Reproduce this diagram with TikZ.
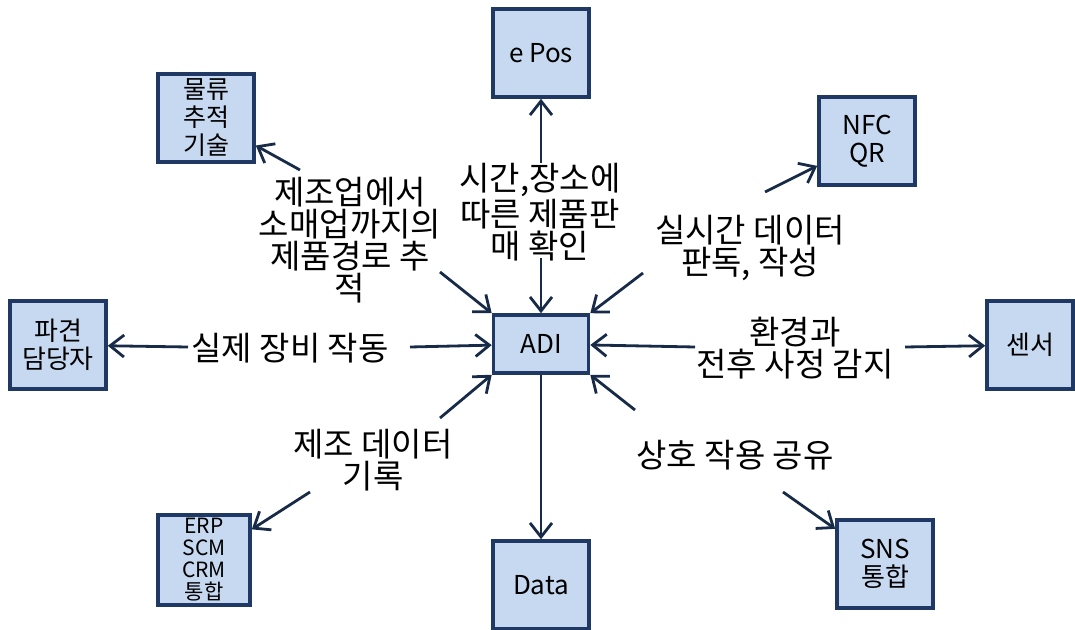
\documentclass[tikz,border=0pt]{standalone}
\usepackage{fontspec}
\setmainfont{Noto Sans CJK KR}
\usepackage{tikz}
\usetikzlibrary{arrows.meta}
\definecolor{boxfill}{RGB}{198,217,240}
\definecolor{boxline}{RGB}{31,56,100}
\definecolor{arrowline}{RGB}{23,43,72}

\begin{document}
\begin{tikzpicture}[x=0.5pt,y=-0.5pt,->,>={Straight Barb[length=7pt,width=11pt]},
  arrowline,line width=1.4pt,
  box/.style={rectangle,draw=boxline,fill=boxfill,line width=1.8pt,text=black,
    minimum width=48pt,minimum height=44pt,inner sep=1pt,align=center,
    font=\fontsize{13}{14}\selectfont},
  lbl/.style={text=black,align=center,inner sep=0pt,font=\fontsize{16.5}{14}\selectfont}]

  \useasboundingbox (0,0) rectangle (1075,630);

  \node[box] (epos) at (541,53) {e Pos};
  \node[box,font=\fontsize{12.5}{14}\selectfont] (track) at (206,118) {물류\\추적\\기술};
  \node[box] (nfc) at (867,141) {NFC\\QR};
  \node[box] (agent) at (58,345) {파견\\담당자};
  \node[box,minimum width=47.5pt,minimum height=29pt] (adi) at (541,344) {ADI};
  \node[box,minimum width=43pt] (sensor) at (1030,345) {센서};
  \node[box,minimum width=46pt,minimum height=45pt,
    font=\fontsize{10.5}{11}\selectfont] (erp) at (204,560) {ERP\\SCM\\CRM\\통합};
  \node[box] (data) at (541,585) {Data};
  \node[box] (sns) at (885,564) {SNS\\통합};

  \node[lbl] (ltrack) at (350,240) {제조업에서\\소매업까지의\\제품경로 추\\적};
  \node[lbl] (ltime) at (540,212) {시간,장소에\\따른 제품판\\매 확인};
  \node[lbl] (lnfc) at (750,248) {실시간 데이터\\판독, 작성};
  \node[lbl] (lagent) at (290,348) {실제 장비 작동};
  \node[lbl] (lsensor) at (795,348) {환경과\\전후 사정 감지};
  \node[lbl] (lerp) at (373,460) {제조 데이터\\기록};
  \node[lbl] (lsns) at (735,455) {상호 작용 공유};

  \coordinate (t1) at (300,170);
  \coordinate (t2) at (440,272);
  \coordinate (p1) at (541,163);
  \coordinate (p2) at (541,258);
  \coordinate (n1) at (765,192);
  \coordinate (n2) at (643,273);
  \coordinate (a1) at (188,347);
  \coordinate (a2) at (410,347);
  \coordinate (s1) at (905,347);
  \coordinate (s2) at (695,347);
  \coordinate (e1) at (440,418);
  \coordinate (e2) at (310,492);
  \coordinate (m1) at (635,410);
  \coordinate (m2) at (783,492);

  \draw (t1) -- (track);
  \draw (t2) -- (adi.north west);
  \draw (p1) -- (epos);
  \draw (p2) -- (adi);
  \draw (n1) -- (nfc);
  \draw (n2) -- (adi.north east);
  \draw (a1) -- (agent);
  \draw (a2) -- (adi);
  \draw (s1) -- (sensor);
  \draw (s2) -- (adi);
  \draw (e1) -- (adi.south west);
  \draw (e2) -- (erp);
  \draw (adi) -- (data);
  \draw (m1) -- (adi.south east);
  \draw (m2) -- (sns);
\end{tikzpicture}
\end{document}
